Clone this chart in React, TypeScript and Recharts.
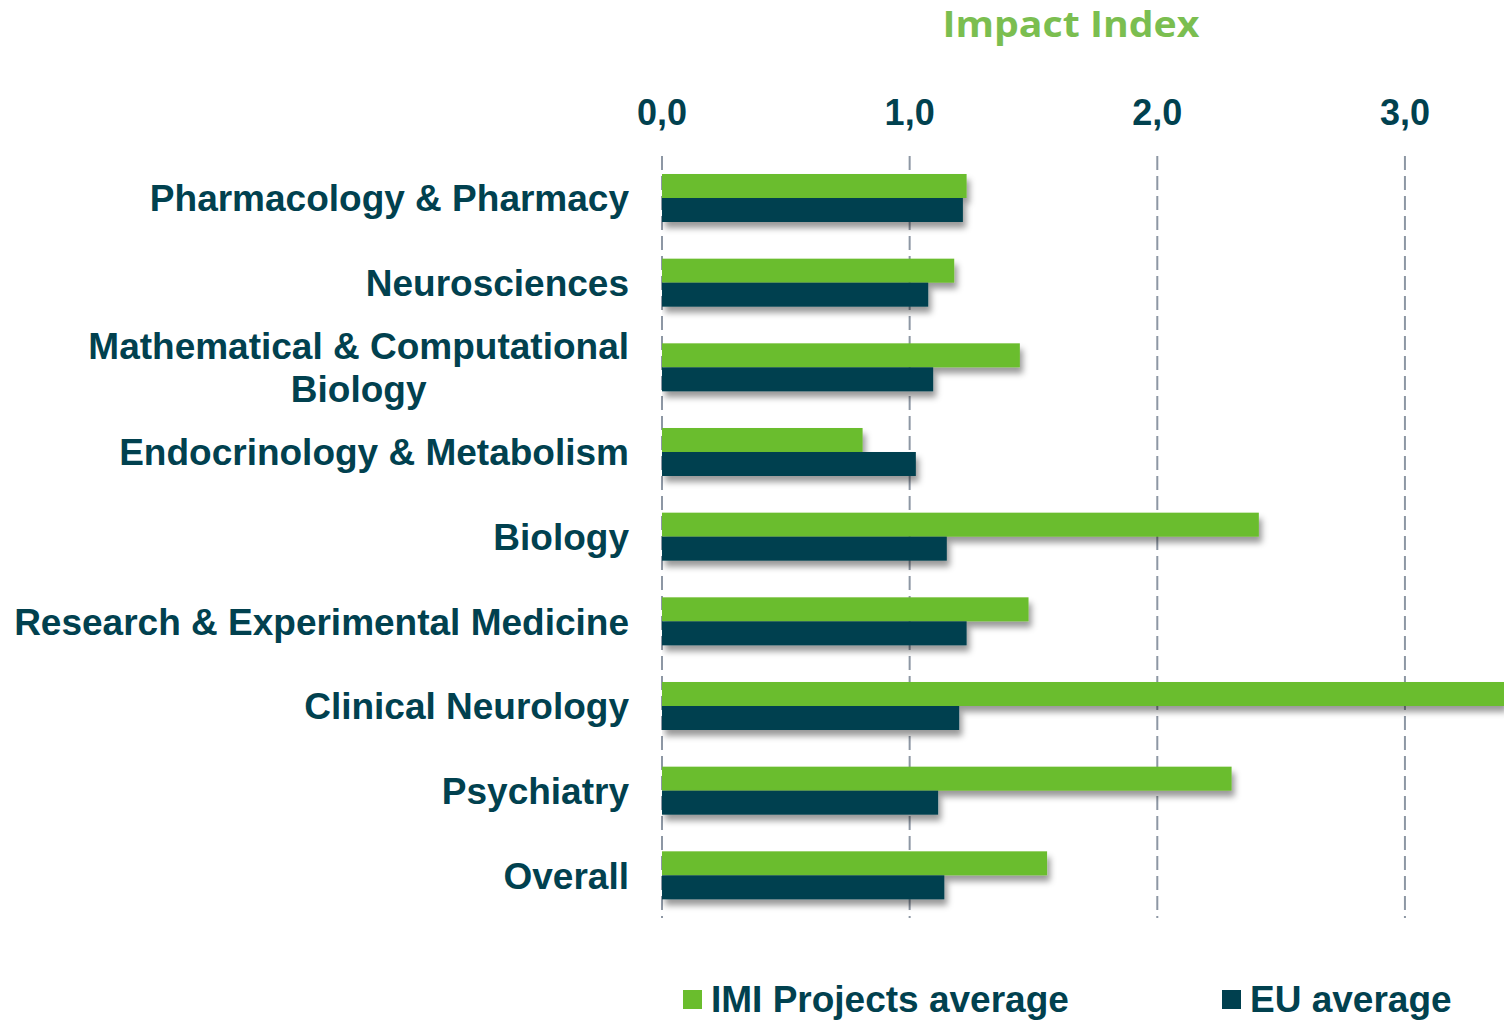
import React from 'react';
import { BarChart, Bar, XAxis, YAxis, CartesianGrid } from 'recharts';

const categories = [
  'Pharmacology & Pharmacy',
  'Neurosciences',
  'Mathematical & Computational\nBiology',
  'Endocrinology & Metabolism',
  'Biology',
  'Research & Experimental Medicine',
  'Clinical Neurology',
  'Psychiatry',
  'Overall',
];
const imiValues = [1.23, 1.18, 1.445, 0.81, 2.41, 1.48, 3.4, 2.3, 1.555];
const euValues = [1.215, 1.075, 1.095, 1.025, 1.15, 1.23, 1.2, 1.115, 1.14];
const xTicks = [0, 1, 2, 3];
const seriesNames = ['IMI Projects average', 'EU average'];
const titleText = 'Impact Index';

const GREEN = '#6ABD2D';
const DARK = '#00404F';
const TEXT = '#01414F';
const GRID = '#8D97A4';
const FONT = "'Liberation Sans', Arial, sans-serif";

const data = categories.map((c, i) => ({ name: c, imi: imiValues[i], eu: euValues[i] }));

let ctx: CanvasRenderingContext2D | null = null;
function measure(text: string, font: string): number {
  if (!ctx) {
    const c = document.createElement('canvas');
    ctx = c.getContext('2d');
  }
  if (!ctx) return text.length * 20;
  ctx.font = font;
  return ctx.measureText(text).width;
}

const YTick = (props: any) => {
  const { x, y, payload } = props;
  const lines: string[] = String(payload.value).split('\n');
  const fs = 37;
  if (lines.length === 1) {
    return (
      <text x={x} y={y} dy="0.355em" textAnchor="end" fontFamily={FONT} fontWeight="bold" fontSize={fs} fill={TEXT}>
        {lines[0]}
      </text>
    );
  }
  const w = Math.max(...lines.map((l) => measure(l, `bold ${fs}px 'Liberation Sans', Arial, sans-serif`)));
  const cx = x - w / 2;
  const lh = 43;
  const start = y - ((lines.length - 1) * lh) / 2;
  return (
    <text textAnchor="middle" fontFamily={FONT} fontWeight="bold" fontSize={fs} fill={TEXT}>
      {lines.map((l, i) => (
        <tspan key={i} x={cx} y={start + i * lh} dy="0.355em">
          {l}
        </tspan>
      ))}
    </text>
  );
};

const ShadowRect = (props: any) => {
  const { x, y, width, height, fill } = props;
  if (!width || width <= 0) return null;
  return <rect x={x} y={y} width={width} height={height} fill={fill} filter="url(#barShadow)" />;
};

export default function App() {
  return (
    <div style={{ position: 'absolute', left: 0, top: 0, width: 1509, height: 1024, background: '#fff' }}>
      <svg width={0} height={0} style={{ position: 'absolute' }}>
        <defs>
          <filter id="barShadow" x="-5%" y="-40%" width="115%" height="200%">
            <feDropShadow dx={3} dy={6} stdDeviation={3} floodColor="#000" floodOpacity={0.4} />
          </filter>
        </defs>
      </svg>
      <svg width={1509} height={60} style={{ position: 'absolute', left: 0, top: 0 }}>
        <text
          x={1071}
          y={37}
          textAnchor="middle"
          fontFamily="'Open Sans', sans-serif"
          fontWeight="bold"
          fontSize={36}
          fill="#7BBE50"
          textLength={257}
          lengthAdjust="spacingAndGlyphs"
        >
          {titleText}
        </text>
      </svg>
      <div style={{ position: 'absolute', left: 0, top: 0 }}>
        <BarChart
          width={1509}
          height={1024}
          data={data}
          layout="vertical"
          margin={{ top: 116, right: 5, bottom: 106, left: 0 }}
          barGap={0}
          barSize={24}
        >
          <CartesianGrid
            horizontal={false}
            stroke={GRID}
            strokeWidth={2}
            strokeDasharray="14 6"
            verticalValues={xTicks}
          />
          <XAxis
            type="number"
            orientation="top"
            domain={[0, 3.4]}
            ticks={xTicks}
            height={40}
            axisLine={false}
            tickLine={false}
            tickMargin={25}
            allowDataOverflow
            tickFormatter={(v: number) => v.toFixed(1).replace('.', ',')}
            tick={{ fontFamily: FONT, fontWeight: 'bold', fontSize: 36, fill: TEXT }}
          />
          <YAxis
            type="category"
            dataKey="name"
            width={662}
            axisLine={false}
            tickLine={false}
            tickMargin={27}
            interval={0}
            tick={<YTick />}
          />
          <Bar dataKey="imi" name={seriesNames[0]} fill={GREEN} isAnimationActive={false} shape={<ShadowRect />} />
          <Bar dataKey="eu" name={seriesNames[1]} fill={DARK} isAnimationActive={false} shape={<ShadowRect />} />
        </BarChart>
      </div>
      <svg width={1509} height={60} style={{ position: 'absolute', left: 0, top: 964 }}>
        <rect x={683} y={26} width={19} height={19} fill={GREEN} />
        <text x={711} y={48} fontFamily={FONT} fontWeight="bold" fontSize={37} fill={TEXT}>
          {seriesNames[0]}
        </text>
        <rect x={1222} y={26} width={19} height={19} fill={DARK} />
        <text x={1250} y={48} fontFamily={FONT} fontWeight="bold" fontSize={37} fill={TEXT}>
          {seriesNames[1]}
        </text>
      </svg>
    </div>
  );
}
